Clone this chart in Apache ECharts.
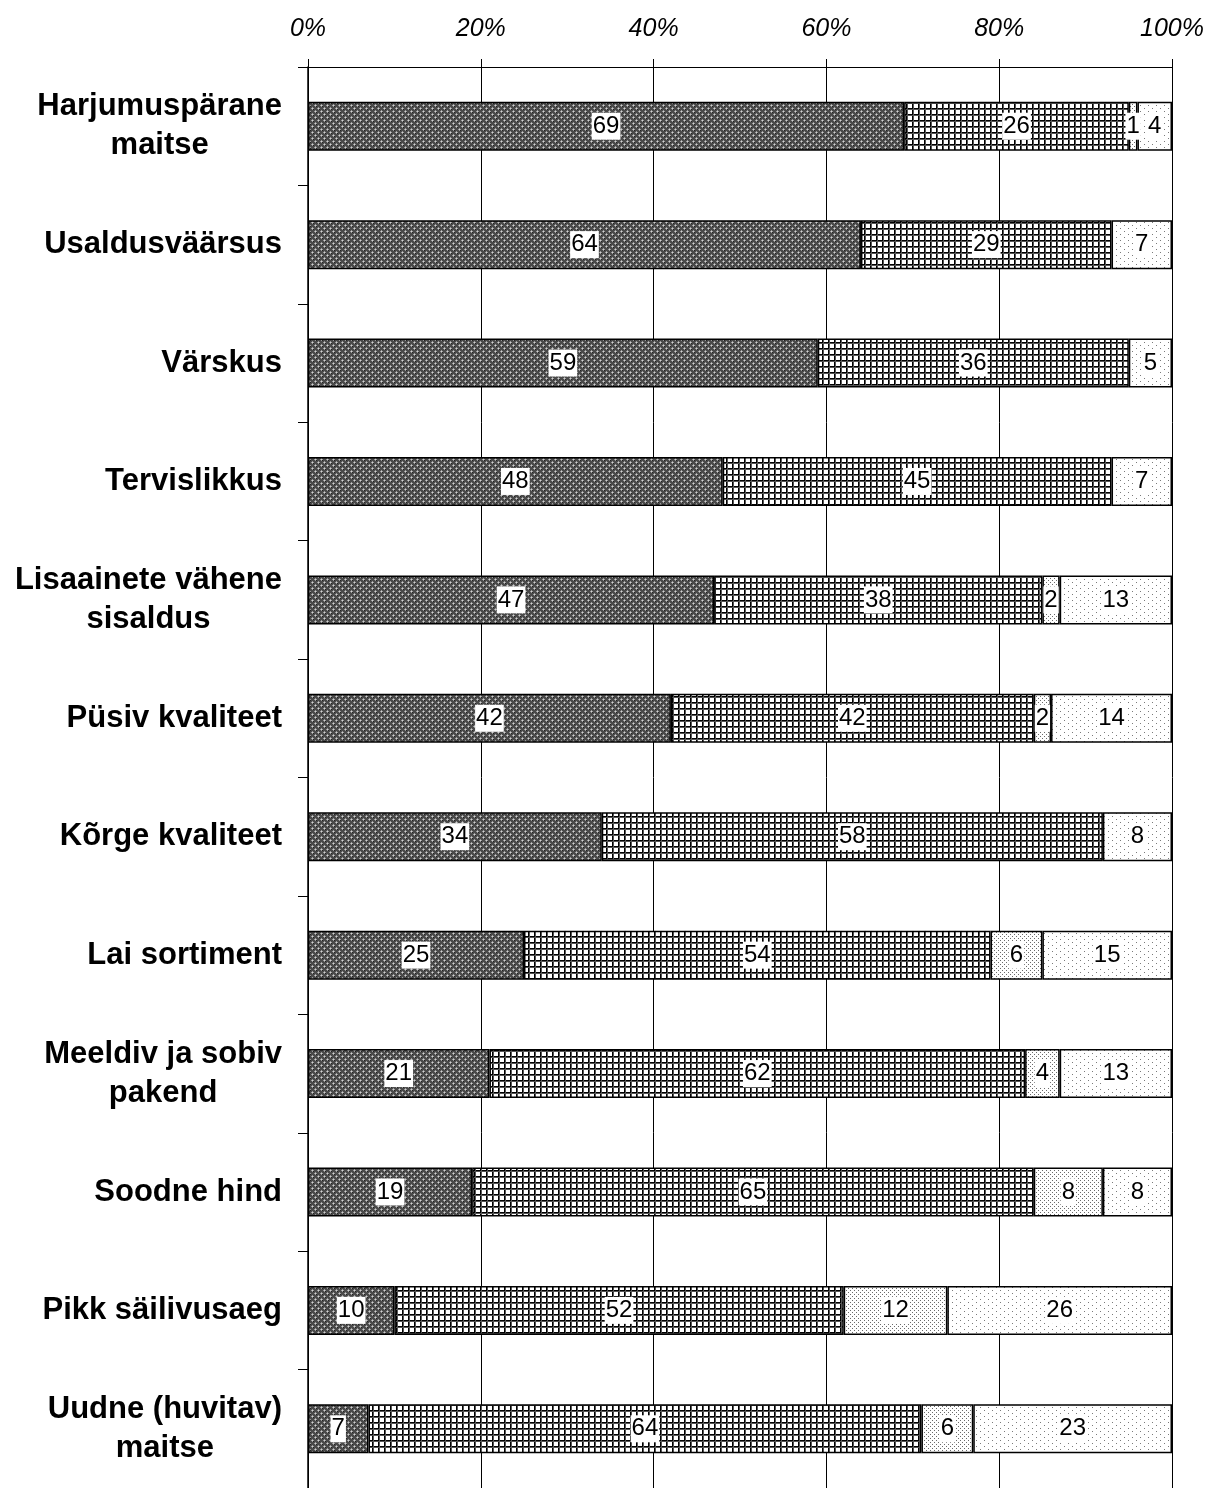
<!DOCTYPE html>
<html>
<head>
<meta charset="utf-8">
<script src="https://cdn.jsdelivr.net/npm/echarts@6/dist/echarts.min.js"></script>
<style>
  html, body { margin: 0; padding: 0; background: #fff; }
  #chart { width: 1208px; height: 1488px; }
</style>
</head>
<body>
<div id="chart"></div>
<script>
var categories = [
    'Harjumuspärane\nmaitse',
    'Usaldusväärsus',
    'Värskus',
    'Tervislikkus',
    'Lisaainete vähene\nsisaldus',
    'Püsiv kvaliteet',
    'Kõrge kvaliteet',
    'Lai sortiment',
    'Meeldiv ja sobiv\npakend',
    'Soodne hind',
    'Pikk säilivusaeg',
    'Uudne (huvitav)\nmaitse'
];
var series1 = [69, 64, 59, 48, 47, 42, 34, 25, 21, 19, 10, 7];
var series2 = [26, 29, 36, 45, 38, 42, 58, 54, 62, 65, 52, 64];
var series3 = [1, 0, 0, 0, 2, 2, 0, 6, 4, 8, 12, 6];
var series4 = [4, 7, 5, 7, 13, 14, 8, 15, 13, 8, 26, 23];

var FONT = 'Liberation Sans, Arial, sans-serif';

// fill patterns drawn on small canvases
function makePattern(w, h, bg, draw) {
    var c = document.createElement('canvas');
    c.width = w;
    c.height = h;
    var ctx = c.getContext('2d');
    ctx.fillStyle = bg;
    ctx.fillRect(0, 0, w, h);
    draw(ctx);
    return {image: c, repeat: 'repeat'};
}

var patDark = makePattern(6, 6, '#4a4a4a', function (ctx) {
    ctx.fillStyle = '#d0d0d0';
    ctx.fillRect(0, 0, 1, 1);
    ctx.fillRect(3, 3, 1, 1);
    ctx.fillStyle = '#9a9a9a';
    ctx.fillRect(1, 0, 1, 1);
    ctx.fillRect(0, 1, 1, 1);
    ctx.fillRect(5, 0, 1, 1);
    ctx.fillRect(0, 5, 1, 1);
    ctx.fillRect(2, 3, 1, 1);
    ctx.fillRect(4, 3, 1, 1);
    ctx.fillRect(3, 2, 1, 1);
    ctx.fillRect(3, 4, 1, 1);
    ctx.fillStyle = '#222';
    ctx.fillRect(1, 1, 1, 1);
    ctx.fillRect(4, 4, 1, 1);
});
var patGrid = makePattern(6, 6, '#ffffff', function (ctx) {
    ctx.fillStyle = '#000';
    ctx.fillRect(0, 0, 6, 1);
    ctx.fillRect(0, 0, 1, 6);
    ctx.fillStyle = '#555';
    ctx.fillRect(0, 1, 6, 1);
    ctx.fillRect(1, 0, 1, 6);
});
var patDense = makePattern(4, 4, '#ffffff', function (ctx) {
    ctx.fillStyle = '#6a6a6a';
    ctx.fillRect(0, 0, 1, 1);
    ctx.fillRect(2, 2, 1, 1);
});
var patSparse = makePattern(8, 6, '#ffffff', function (ctx) {
    ctx.fillStyle = '#7a7a7a';
    ctx.fillRect(0, 0, 1, 1);
    ctx.fillRect(4, 3, 1, 1);
});

function makeSeries(name, values, pattern) {
    return {
        name: name,
        type: 'bar',
        stack: 'total',
        barWidth: 49,
        data: values.map(function (v) { return v === 0 ? '-' : v; }),
        itemStyle: {
            color: pattern,
            borderColor: '#000',
            borderWidth: 1.5
        },
        label: {
            show: true,
            position: 'inside',
            color: '#000',
            fontSize: 24,
            fontFamily: FONT,
            backgroundColor: '#fff',
            padding: [2, 1, 1, 1]
        }
    };
}

var option = {
    animation: false,
    backgroundColor: '#fff',
    grid: {
        left: 308,
        right: 36,
        top: 67,
        height: 1428
    },
    xAxis: {
        type: 'value',
        position: 'top',
        min: 0,
        max: 100,
        interval: 20,
        axisLine: {show: true, lineStyle: {color: '#000', width: 1}},
        axisTick: {show: true, length: 8, lineStyle: {color: '#000'}},
        splitLine: {show: true, lineStyle: {color: '#000', width: 1}},
        axisLabel: {
            formatter: '{value}%',
            fontSize: 25,
            fontStyle: 'italic',
            color: '#000',
            fontFamily: FONT,
            margin: 25
        }
    },
    yAxis: {
        type: 'category',
        inverse: true,
        data: categories,
        axisLine: {show: true, lineStyle: {color: '#000', width: 1.5}},
        axisTick: {show: true, length: 10, lineStyle: {color: '#000'}},
        axisLabel: {
            margin: 26,
            color: '#000',
            fontSize: 31,
            fontWeight: 'bold',
            fontFamily: FONT,
            lineHeight: 39,
            formatter: function (v) {
                return v.split('\n').map(function (s) { return '{c|' + s + '}'; }).join('\n');
            },
            rich: {
                c: {
                    align: 'center',
                    fontSize: 31,
                    fontWeight: 'bold',
                    lineHeight: 39,
                    color: '#000',
                    fontFamily: FONT
                }
            }
        }
    },
    series: [
        makeSeries('1', series1, patDark),
        makeSeries('2', series2, patGrid),
        makeSeries('3', series3, patDense),
        makeSeries('4', series4, patSparse)
    ]
};

var myChart = echarts.init(document.getElementById('chart'));
myChart.setOption(option);
</script>
</body>
</html>
